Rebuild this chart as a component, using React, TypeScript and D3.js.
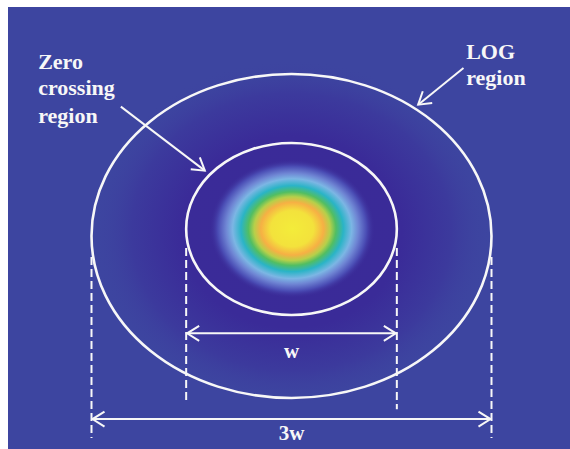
import React from "react";
import * as d3 from "d3";

// ---- data (schematic units; 1 unit = one third of the LOG region width) ----
const regionNames = ["Zero crossing region", "LOG region"];
const regionCx = [0.0, 0.0];
const regionCy = [-0.053, 0.0];
const regionRx = [0.79, 1.5];
const regionRy = [0.645, 1.215];

// dimension lines: label, half width, y of arrow, y of dashed extent
const dimLabels = ["w", "3w"];
const dimHalf = [0.79, 1.5];
const dimArrowY = [0.73, 1.373];
const dimDashTop = [0.09, 0.158];
const dimDashBottomL = [1.245, 1.515];
const dimDashBottomR = [1.3, 1.515];
const dimLabelY = [0.915, 1.53];

// blob (Gaussian) extent in units
const blobCx = [0.005];
const blobCy = [-0.055];
const blobRx = [0.62];
const blobRy = [0.52];

// annotation text lines and positions (units)
const zeroLines = ["Zero", "crossing", "region"];
const zeroX = [-1.9];
const zeroY = [-1.255, -1.06, -0.85];
const logLines = ["LOG", "region"];
const logX = [1.31];
const logY = [-1.33, -1.13];
const zeroArrow = [[-1.28, -0.97], [-0.65, -0.49]];
const logArrow = [[1.29, -1.26], [0.95, -0.985]];

// colour stops of the Gaussian blob (offset, colour)
const blobStopOffsets = [0, 0.26, 0.38, 0.46, 0.53, 0.62, 0.72, 0.8, 0.9, 1];
const blobStopColors = ["#f3ec3a", "#f3e23c", "#f6b044", "#b6d04a", "#52be62", "#2ab4c6", "#7cb6e4", "#6f86d4", "#4a4cb4", "#3b2c98"];

export default function App() {
  const W = 570, H = 449;
  const x = d3.scaleLinear().domain([-1.5, 1.5]).range([91.5, 491.5]);
  const y = d3.scaleLinear().domain([-1.5, 1.5]).range([36, 436]);
  const px = (v: number) => x(v) - x(0); // length in px

  const bg = "#3d45a0";
  const white = "#f7f7f7";

  const arrowPath = (p: number[][]) => d3.line()(p.map(([a, b]) => [x(a), y(b)] as [number, number])) || "";

  return (
    <svg width={W} height={H} style={{ position: "absolute", left: 0, top: 0 }}
      fontFamily="'Liberation Serif', 'Times New Roman', serif">
      <defs>
        <radialGradient id="halo" cx="50%" cy="50%" r="50%">
          <stop offset="0" stopColor="#3a2a98" />
          <stop offset="0.55" stopColor="#3a2b98" />
          <stop offset="0.8" stopColor="#3c3a9d" />
          <stop offset="1" stopColor={bg} stopOpacity={0} />
        </radialGradient>
        <radialGradient id="blob" cx="50%" cy="50%" r="50%">
          {blobStopOffsets.map((o, i) => (
            <stop key={i} offset={o} stopColor={blobStopColors[i]} stopOpacity={i === blobStopOffsets.length - 1 ? 0 : 1} />
          ))}
        </radialGradient>
        <marker id="chev" markerUnits="userSpaceOnUse" viewBox="-14 -9 16 18" refX={0} refY={0}
          markerWidth={16} markerHeight={18} orient="auto-start-reverse">
          <path d="M-12,-7.5 L0,0 L-12,7.5" fill="none" stroke={white} strokeWidth={2} />
        </marker>
      </defs>
      <rect x={0} y={0} width={W} height={H} fill="#ffffff" />
      <rect x={8} y={7} width={W - 8} height={H - 7} fill={bg} />

      {/* dark halo around the blob */}
      <ellipse cx={x(0)} cy={y(-0.03)} rx={px(1.5)} ry={px(1.3)} fill="url(#halo)" />
      {/* Gaussian blob */}
      <ellipse cx={x(blobCx[0])} cy={y(blobCy[0])} rx={px(blobRx[0])} ry={px(blobRy[0])} fill="url(#blob)" />

      {/* region ellipses */}
      {regionNames.map((n, i) => (
        <ellipse key={n} cx={x(regionCx[i])} cy={y(regionCy[i])} rx={px(regionRx[i])} ry={px(regionRy[i])}
          fill="none" stroke={white} strokeWidth={2.6} />
      ))}

      {/* dimension lines */}
      {dimLabels.map((lab, i) => (
        <g key={lab}>
          <line x1={x(-dimHalf[i])} x2={x(-dimHalf[i])} y1={y(dimDashTop[i])} y2={y(dimDashBottomL[i])}
            stroke={white} strokeWidth={2} strokeDasharray="8,4" />
          <line x1={x(dimHalf[i])} x2={x(dimHalf[i])} y1={y(dimDashTop[i])} y2={y(dimDashBottomR[i])}
            stroke={white} strokeWidth={2} strokeDasharray="8,4" />
          <line x1={x(-dimHalf[i]) + 1} x2={x(dimHalf[i]) - 1} y1={y(dimArrowY[i])} y2={y(dimArrowY[i])}
            stroke={white} strokeWidth={2} markerStart="url(#chev)" markerEnd="url(#chev)" />
          <text x={x(0)} y={y(dimLabelY[i])} textAnchor="middle" fill={white} fontWeight="bold" fontSize={21}>{lab}</text>
        </g>
      ))}

      {/* annotations */}
      {zeroLines.map((t, i) => (
        <text key={t} x={x(zeroX[0])} y={y(zeroY[i])} fill={white} fontWeight="bold" fontSize={22}>{t}</text>
      ))}
      {logLines.map((t, i) => (
        <text key={t} x={x(logX[0])} y={y(logY[i])} fill={white} fontWeight="bold" fontSize={22}>{t}</text>
      ))}
      <path d={arrowPath(zeroArrow)} stroke={white} strokeWidth={2} fill="none" markerEnd="url(#chev)" />
      <path d={arrowPath(logArrow)} stroke={white} strokeWidth={2} fill="none" markerEnd="url(#chev)" />
    </svg>
  );
}
